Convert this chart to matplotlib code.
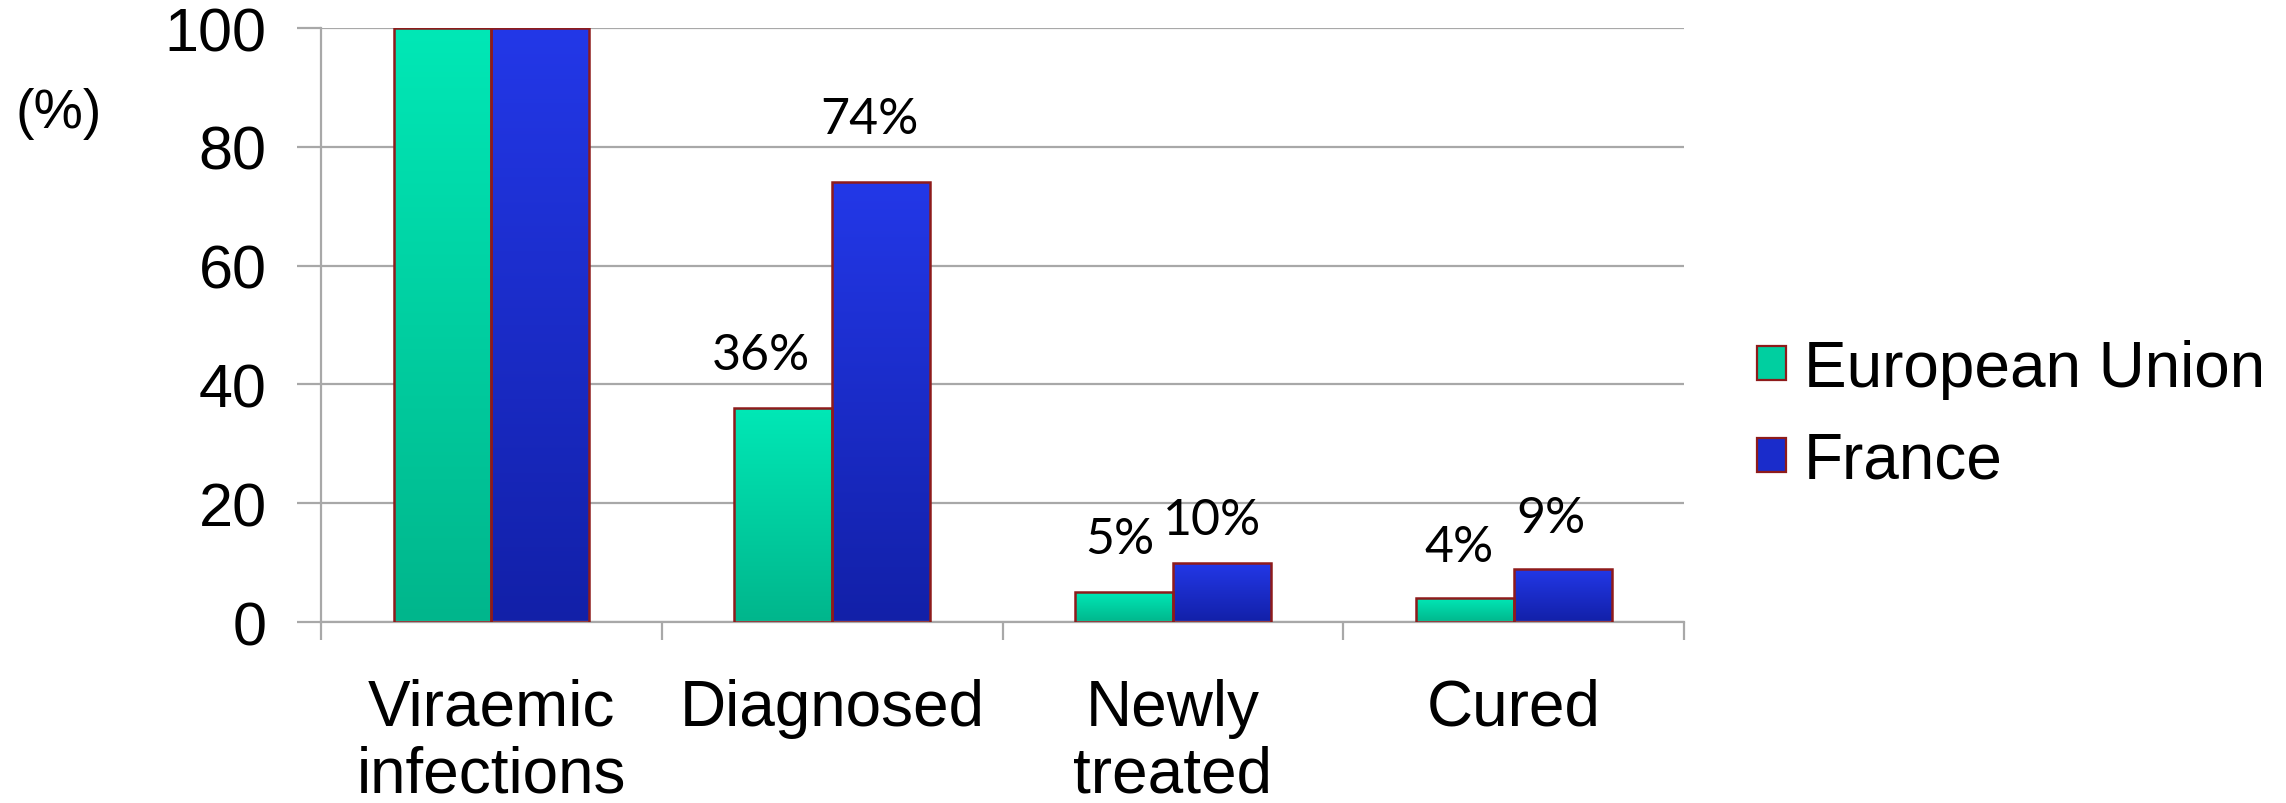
import numpy as np
import matplotlib.pyplot as plt
from matplotlib.colors import LinearSegmentedColormap
from matplotlib.patches import Patch

categories = ["Viraemic\ninfections", "Diagnosed", "Newly\ntreated", "Cured"]
series_names = ["European Union", "France"]
eu_values = [100, 36, 5, 4]
fr_values = [100, 74, 10, 9]
eu_labels = [None, "36%", "5%", "4%"]
fr_labels = [None, "74%", "10%", "9%"]
y_ticks = [0, 20, 40, 60, 80, 100]

# (top colour, bottom colour) for the vertical gradient fill of each series
eu_grad = ("#00E8B6", "#00B68C")
fr_grad = ("#2338E8", "#1220A8")
edge_col = "#8E1B1B"
grid_col = "#A8A8A8"

# label nudges in pixels (dx, dy) above each bar top
eu_nudge = [None, (-22, 30), (-4, 30), (-6, 28)]
fr_nudge = [None, (-12, 40), (-10, 20), (-12, 28)]

plt.rcParams["font.family"] = ["Liberation Sans", "DejaVu Sans"]

fig = plt.figure(figsize=(22.86, 8.04), dpi=100)
ax = fig.add_axes([0.1404, 0.2251, 0.5963, 0.7388])

x = np.arange(len(categories))
w = 0.287


def grad_bars(xpos, vals, colors):
    bars = ax.bar(xpos, vals, w, facecolor="none", edgecolor=edge_col,
                  linewidth=1.8, zorder=3)
    cmap = LinearSegmentedColormap.from_list("g", [colors[1], colors[0]])
    grad = np.linspace(0, 1, 256).reshape(-1, 1)
    for b in bars:
        x0, y0 = b.get_x(), b.get_y()
        im = ax.imshow(grad, cmap=cmap, origin="lower", aspect="auto",
                       extent=[x0, x0 + b.get_width(), y0, y0 + b.get_height()],
                       zorder=2)
        im.set_clip_path(b)
    return bars


eu_bars = grad_bars(x - w / 2, eu_values, eu_grad)
fr_bars = grad_bars(x + w / 2, fr_values, fr_grad)

for bars, labels, nudges in [(eu_bars, eu_labels, eu_nudge), (fr_bars, fr_labels, fr_nudge)]:
    for b, lab, nd in zip(bars, labels, nudges):
        if lab is None:
            continue
        ax.annotate(lab, (b.get_x() + b.get_width() / 2, b.get_height()),
                    xytext=(nd[0] * 0.72, nd[1] * 0.72), textcoords="offset points",
                    ha="center", va="bottom", fontsize=36, family="Lato")

ax.set_xlim(-0.5, len(categories) - 0.5)
ax.set_ylim(0, 100)
ax.set_yticks(y_ticks)
ax.yaxis.grid(True, color=grid_col, linewidth=1.6, zorder=0)
ax.tick_params(axis="y", length=17, width=1.6, color=grid_col, pad=22, labelsize=44)

ax.set_xticks(x)
ax.set_xticklabels(categories, fontsize=46, linespacing=1.15)
ax.set_xticks(np.arange(len(categories) + 1) - 0.5, minor=True)
ax.tick_params(axis="x", which="major", length=0, pad=40)
ax.tick_params(axis="x", which="minor", length=13, width=1.6, color=grid_col)

for s in ["top", "right"]:
    ax.spines[s].set_visible(False)
for s in ["left", "bottom"]:
    ax.spines[s].set_color(grid_col)
    ax.spines[s].set_linewidth(1.6)

fig.text(0.0066, 0.858, "(%)", fontsize=40, ha="left", va="center")

handles = [Patch(facecolor="#00CFA0", edgecolor=edge_col, linewidth=1.6),
           Patch(facecolor="#1A2CCB", edgecolor=edge_col, linewidth=1.6)]
fig.legend(handles, series_names, loc="center left",
           bbox_to_anchor=(0.7686, 0.483), bbox_transform=fig.transFigure,
           frameon=False, fontsize=46, handlelength=0.45, handleheight=0.45,
           handletextpad=0.28, labelspacing=0.5, borderpad=0, borderaxespad=0)

fig.savefig("out.png", dpi=100)
